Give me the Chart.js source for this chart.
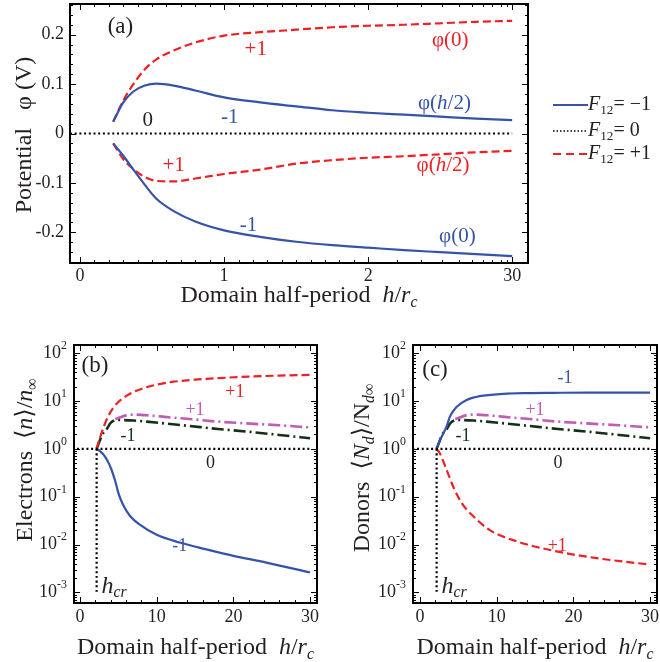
<!DOCTYPE html>
<html>
<head>
<meta charset="utf-8">
<script src="https://cdn.jsdelivr.net/npm/chart.js@4.4.1/dist/chart.umd.min.js"></script>
<style>
  body { margin: 0; background: #fff; }
  .box { position: absolute; }
</style>
</head>
<body>
<div class="box" style="left:0;top:0;width:660px;height:312px"><canvas id="chartA"></canvas></div>
<div class="box" style="left:0;top:320px;width:330px;height:342px"><canvas id="chartB"></canvas></div>
<div class="box" style="left:330px;top:320px;width:330px;height:342px"><canvas id="chartC"></canvas></div>
<script>
/* ---------- Data ---------- */

// panel (a): x is the position on the compressed axis (ticks 0, 1, 2, 30)
const phiX = [0.23, 0.30, 0.37, 0.45, 0.53, 0.65, 0.80, 1.0, 1.25, 1.5, 1.75, 2.0, 2.25, 2.5, 2.75, 3.0];
const phi0Plus     = [0.024, 0.067, 0.100, 0.130, 0.150, 0.168, 0.184, 0.198, 0.205, 0.210, 0.215, 0.218, 0.220, 0.223, 0.226, 0.228];
const phiHalfMinus = [0.024, 0.063, 0.085, 0.097, 0.101, 0.097, 0.087, 0.073, 0.063, 0.055, 0.047, 0.042, 0.038, 0.034, 0.030, 0.027];
const phiHalfPlus  = [-0.020, -0.052, -0.072, -0.088, -0.096, -0.097, -0.091, -0.082, -0.073, -0.061, -0.054, -0.049, -0.046, -0.042, -0.038, -0.035];
const phi0Minus    = [-0.020, -0.045, -0.073, -0.104, -0.132, -0.157, -0.178, -0.196, -0.209, -0.219, -0.226, -0.231, -0.236, -0.240, -0.244, -0.248];
const phiZeroX = [-0.07, 3.0];
const phiZero  = [0, 0];
const phiXTicks = [0, 1, 2, 3];
const phiXLabels = ['0', '1', '2', '30'];
const phiYTicks = [0.2, 0.1, 0, -0.1, -0.2];
const phiYLabels = ['0.2', '0.1', '0', '-0.1', '-0.2'];

// panel (b): electrons
const hElecPlus = [2.17, 2.6, 3.0, 3.5, 4.35, 5, 6, 7, 8.7, 10, 12, 15, 18, 22, 26, 30];
const elecPlus  = [1.0, 1.7, 2.6, 4.2, 7.2, 9.5, 12.6, 15.5, 19.5, 21.9, 25, 28, 30, 32.4, 33.9, 35];
const hElecMinus = [2.17, 2.6, 3.0, 3.5, 4.1, 4.6, 5.0, 5.65, 6.5, 7.8, 10, 13, 16.5, 20, 24.3, 30];
const elecMinus  = [1.0, 0.9, 0.78, 0.6, 0.37, 0.21, 0.12, 0.066, 0.040, 0.026, 0.016, 0.011, 0.0079, 0.0058, 0.0042, 0.0026];

// dash-dot curves, same in (b) and (c)
const hDashDotPlus = [4.6, 5.0, 6, 7, 9, 12, 14.3, 18, 21.7, 26, 30];
const dashDotPlus  = [4.2, 4.4, 5.0, 5.2, 5.0, 4.5, 4.2, 3.7, 3.4, 3.1, 2.8];
const hDashDotMinus = [2.17, 3.0, 3.5, 4.0, 5, 7, 8.7, 11, 14.3, 18, 21.7, 26, 30];
const dashDotMinus  = [1.0, 2.1, 2.6, 3.5, 4.0, 3.9, 3.7, 3.4, 3.0, 2.6, 2.3, 1.95, 1.66];

// panel (c): donors
const hDonorMinus = [2.17, 2.6, 3.04, 3.5, 3.9, 4.8, 6.1, 7.8, 10.9, 14, 17.4, 22, 26, 30];
const donorMinus  = [1.0, 1.5, 2.1, 3.0, 4.7, 7.6, 10.5, 12.6, 14.1, 14.6, 14.8, 15.0, 15.0, 15.0];
const hDonorPlus = [2.17, 2.6, 3.48, 4.35, 5.43, 6.95, 9.1, 12.6, 17.8, 23, 30];
const donorPlus  = [1.0, 0.8, 0.36, 0.16, 0.074, 0.039, 0.020, 0.0117, 0.0072, 0.0052, 0.0038];

// reference lines in (b), (c)
const hCr = 2.17;
const unityX = [-1, 30];
const unity  = [1, 1];
const hCrLineY = [1, 0.001];

const hTicks = [0, 10, 20, 30];
const hLabels = ['0', '10', '20', '30'];
const logExps = [-3, -2, -1, 0, 1, 2];
const logLabels = ['-3', '-2', '-1', '0', '1', '2'];

/* ---------- Styles ---------- */

const BLUE = '#3553a8';
const RED = '#ee2024';
const MAG = '#c05cb4';
const DKGREEN = '#15301a';
const INK = '#231f20';
const FONT = '"Liberation Serif", "DejaVu Serif", serif';

const DASH = [8, 4];
const DOT = [2, 2.7];
const DASHDOT = [12, 4, 2, 4];

/* ---------- Helpers ---------- */

const xy = (xs, ys) => xs.map((x, i) => ({ x, y: ys[i] }));

function curve(data, color, dash, width) {
  return {
    data, borderColor: color, borderDash: dash || [], borderWidth: width || 2.2,
    pointRadius: 0, fill: false, cubicInterpolationMode: 'monotone'
  };
}

// rich text segments
const T = t => ({ t });
const I = t => ({ t, it: true });
const SUB = (t, it) => ({ t, sub: true, it });
const SUP = t => ({ t, sup: true });

function fontOf(size, it) { return (it ? 'italic ' : '') + size + 'px ' + FONT; }
function segSize(s, size) { return s.sub || s.sup ? size * 0.66 : size; }

function richWidth(ctx, segs, size) {
  let w = 0;
  segs.forEach(s => { ctx.font = fontOf(segSize(s, size), s.it); w += ctx.measureText(s.t).width; });
  return w;
}

function drawRich(ctx, segs, x, y, size, align) {
  const w = richWidth(ctx, segs, size);
  let cx = align === 'left' ? x : align === 'right' ? x - w : x - w / 2;
  ctx.textAlign = 'left';
  ctx.textBaseline = 'middle';
  segs.forEach(s => {
    ctx.font = fontOf(segSize(s, size), s.it);
    const dy = s.sub ? size * 0.28 : s.sup ? -size * 0.4 : 0;
    ctx.fillText(s.t, cx, y + dy);
    cx += ctx.measureText(s.t).width;
  });
}

function logMinor(lo, hi) {
  const out = [];
  for (let d = lo; d <= hi; d++) for (let m = 2; m <= 9; m++) out.push(m * Math.pow(10, d));
  return out;
}

function range(a, b, step) {
  const out = [];
  for (let v = a; v <= b + 1e-9; v += step) out.push(Math.round(v * 1000) / 1000);
  return out;
}

/* ---------- Frame, ticks, labels, notes ---------- */

function decoPlugin(cfg) {
  return {
    id: 'deco',
    afterDraw(chart) {
      const { ctx, chartArea: a } = chart;
      const sx = chart.scales.x, sy = chart.scales.y;
      ctx.save();

      // inward ticks on all four sides
      ctx.strokeStyle = '#000';
      ctx.lineWidth = 1;
      ctx.beginPath();
      const xt = (v, len) => {
        const p = Math.round(sx.getPixelForValue(v)) + 0.5;
        if (p < a.left || p > a.right) return;
        ctx.moveTo(p, a.bottom); ctx.lineTo(p, a.bottom - len);
        ctx.moveTo(p, a.top); ctx.lineTo(p, a.top + len);
      };
      const yt = (v, len) => {
        const p = Math.round(sy.getPixelForValue(v)) + 0.5;
        if (p < a.top || p > a.bottom) return;
        ctx.moveTo(a.left, p); ctx.lineTo(a.left + len, p);
        ctx.moveTo(a.right, p); ctx.lineTo(a.right - len, p);
      };
      cfg.xMinor.forEach(v => xt(v, 3));
      cfg.xMajor.forEach(v => xt(v, 6));
      cfg.yMinor.forEach(v => yt(v, 3));
      cfg.yMajor.forEach(v => yt(v, 6));
      ctx.stroke();

      ctx.lineWidth = 2;
      ctx.strokeRect(a.left, a.top, a.right - a.left, a.bottom - a.top);

      // tick labels
      ctx.fillStyle = INK;
      cfg.xMajor.forEach((v, i) => {
        drawRich(ctx, [T(cfg.xLabels[i])], sx.getPixelForValue(v), a.bottom + cfg.xLabelGap, cfg.tickSize, 'center');
      });
      cfg.yMajor.forEach((v, i) => {
        const segs = cfg.yLog ? [T('10'), SUP(cfg.yLabels[i])] : [T(cfg.yLabels[i])];
        drawRich(ctx, segs, a.left - cfg.yLabelGap, sy.getPixelForValue(v), cfg.tickSize, 'right');
      });

      // axis titles
      drawRich(ctx, cfg.xTitle, (a.left + a.right) / 2, cfg.xTitleY, cfg.titleSize, 'center');
      ctx.save();
      ctx.translate(cfg.yTitleX, cfg.yTitleY);
      ctx.rotate(-Math.PI / 2);
      drawRich(ctx, cfg.yTitle, 0, 0, cfg.titleSize, 'center');
      ctx.restore();

      // curve labels
      cfg.notes.forEach(n => {
        ctx.fillStyle = n.color || INK;
        drawRich(ctx, n.segs, sx.getPixelForValue(n.x), sy.getPixelForValue(n.y), n.size, n.align || 'center');
      });

      // legend
      (cfg.legend || []).forEach(e => {
        ctx.strokeStyle = e.color;
        ctx.lineWidth = e.width;
        ctx.setLineDash(e.dash);
        ctx.beginPath();
        ctx.moveTo(cfg.legendX, e.y);
        ctx.lineTo(cfg.legendX + 35, e.y);
        ctx.stroke();
        ctx.setLineDash([]);
        ctx.fillStyle = INK;
        drawRich(ctx, e.segs, cfg.legendX + 35, e.y, 20, 'left');
      });

      ctx.restore();
    }
  };
}

function baseOptions(pad, yWidth, xHeight, xScale, yScale) {
  const hidden = { display: false };
  return {
    responsive: true,
    maintainAspectRatio: false,
    animation: false,
    layout: { padding: pad },
    plugins: { legend: hidden, tooltip: { enabled: false } },
    scales: {
      x: Object.assign({
        type: 'linear', grid: hidden, border: hidden, ticks: hidden,
        afterFit: s => { s.height = xHeight; }
      }, xScale),
      y: Object.assign({
        grid: hidden, border: hidden, ticks: hidden,
        afterFit: s => { s.width = yWidth; }
      }, yScale)
    }
  };
}

/* ---------- Panel (a) ---------- */

const hOver = [I('h'), T('/2')];
const phiMinorX = range(0, 2, 0.1).concat([2.2, 2.37, 2.51, 2.63, 2.72, 2.8, 2.86, 2.92, 2.965]);

new Chart(document.getElementById('chartA'), {
  type: 'line',
  data: {
    datasets: [
      curve(xy(phiZeroX, phiZero), '#000', DOT, 2.2),
      curve(xy(phiX, phiHalfMinus), BLUE),
      curve(xy(phiX, phi0Minus), BLUE),
      curve(xy(phiX, phi0Plus), RED, DASH),
      curve(xy(phiX, phiHalfPlus), RED, DASH)
    ]
  },
  options: baseOptions({ top: 4, right: 132 }, 70, 49,
    { min: -0.07, max: 3.11 },
    { type: 'linear', min: -0.262, max: 0.262 }),
  plugins: [decoPlugin({
    xMajor: phiXTicks, xLabels: phiXLabels, xMinor: phiMinorX, xLabelGap: 13,
    yMajor: phiYTicks, yLabels: phiYLabels, yMinor: range(-0.26, 0.26, 0.02), yLabelGap: 6,
    tickSize: 18, titleSize: 24,
    xTitle: [T('Domain half-period  '), I('h'), T('/'), I('r'), SUB('c', true)], xTitleY: 296,
    yTitle: [T('Potential   φ (V)')], yTitleX: 25, yTitleY: 135,
    notes: [
      { x: 0.28, y: 0.216, segs: [T('(a)')], size: 23 },
      { x: 1.22, y: 0.169, segs: [T('+1')], size: 21, color: RED },
      { x: 1.04, y: 0.033, segs: [T('-1')], size: 21, color: BLUE },
      { x: 0.47, y: 0.027, segs: [T('0')], size: 21 },
      { x: 0.65, y: -0.064, segs: [T('+1')], size: 21, color: RED },
      { x: 1.17, y: -0.186, segs: [T('-1')], size: 21, color: BLUE },
      { x: 2.57, y: 0.189, segs: [T('φ(0)')], size: 21, color: RED },
      { x: 2.53, y: 0.061, segs: [T('φ(')].concat(hOver, [T(')')]), size: 21, color: BLUE },
      { x: 2.52, y: -0.064, segs: [T('φ(')].concat(hOver, [T(')')]), size: 21, color: RED },
      { x: 2.62, y: -0.208, segs: [T('φ(0)')], size: 21, color: BLUE }
    ],
    legendX: 553,
    legend: [
      { y: 105, color: BLUE, dash: [], width: 2.2, segs: [I('F'), SUB('12'), T('= −1')] },
      { y: 131, color: '#000', dash: [1.5, 2], width: 1.5, segs: [I('F'), SUB('12'), T('= 0')] },
      { y: 154, color: RED, dash: [8, 5], width: 2.2, segs: [I('F'), SUB('12'), T('= +1')] }
    ]
  })]
});

/* ---------- Panels (b) and (c) ---------- */

const logMajor = logExps.map(e => Math.pow(10, e));
const logScale = { type: 'logarithmic', min: Math.pow(10, -3.21), max: Math.pow(10, 2.17) };
const hMinor = range(0, 30, 2);
const hcrSegs = [I('h'), SUB('cr', true)];

function logPanelConfig(extra) {
  return Object.assign({
    xMajor: hTicks, xLabels: hLabels, xMinor: hMinor, xLabelGap: 14,
    yMajor: logMajor, yLabels: logLabels, yMinor: logMinor(-4, 2), yLog: true, yLabelGap: 7,
    tickSize: 18, titleSize: 24,
    xTitle: [T('Domain half-period  '), I('h'), T('/'), I('r'), SUB('c', true)], xTitleY: 328
  }, extra);
}

new Chart(document.getElementById('chartB'), {
  type: 'line',
  data: {
    datasets: [
      curve(xy(unityX, unity), '#000', DOT, 2.2),
      curve(xy([hCr, hCr], hCrLineY), '#000', DOT, 2.2),
      curve(xy(hElecMinus, elecMinus), BLUE),
      curve(xy(hElecPlus, elecPlus), RED, DASH),
      curve(xy(hDashDotPlus, dashDotPlus), MAG, DASHDOT, 2.6),
      curve(xy(hDashDotMinus, dashDotMinus), DKGREEN, DASHDOT, 2.6)
    ]
  },
  options: baseOptions({ top: 25, right: 13 }, 74, 59, { min: -0.78, max: 30.9 }, logScale),
  plugins: [decoPlugin(logPanelConfig({
    yTitle: [T('Electrons  ⟨'), I('n'), T('⟩/'), I('n'), SUB('∞')], yTitleX: 26, yTitleY: 140,
    notes: [
      { x: 1.96, y: 53.7, segs: [T('(b)')], size: 23 },
      { x: 20.2, y: 15.4, segs: [T('+1')], size: 18, color: RED },
      { x: 15.0, y: 6.5, segs: [T('+1')], size: 18, color: MAG },
      { x: 6.26, y: 1.86, segs: [T('-1')], size: 18, color: DKGREEN },
      { x: 17.0, y: 0.51, segs: [T('0')], size: 18 },
      { x: 13.0, y: 0.0091, segs: [T('-1')], size: 18, color: BLUE },
      { x: 2.8, y: 0.00133, segs: hcrSegs, size: 24, align: 'left' }
    ]
  }))]
});

new Chart(document.getElementById('chartC'), {
  type: 'line',
  data: {
    datasets: [
      curve(xy(unityX, unity), '#000', DOT, 2.2),
      curve(xy([hCr, hCr], hCrLineY), '#000', DOT, 2.2),
      curve(xy(hDonorPlus, donorPlus), RED, DASH),
      curve(xy(hDonorMinus, donorMinus), BLUE),
      curve(xy(hDashDotPlus, dashDotPlus), MAG, DASHDOT, 2.6),
      curve(xy(hDashDotMinus, dashDotMinus), DKGREEN, DASHDOT, 2.6)
    ]
  },
  options: baseOptions({ top: 25, right: 3 }, 83, 59, { min: -0.91, max: 30.9 }, logScale),
  plugins: [decoPlugin(logPanelConfig({
    yTitle: [T('Donors  ⟨'), I('N'), SUB('d', true), T('⟩/N'), SUB('d∞', true)], yTitleX: 33, yTitleY: 148,
    notes: [
      { x: 1.96, y: 44.7, segs: [T('(c)')], size: 23 },
      { x: 18.9, y: 30, segs: [T('-1')], size: 18, color: BLUE },
      { x: 15.0, y: 6.5, segs: [T('+1')], size: 18, color: MAG },
      { x: 5.6, y: 1.86, segs: [T('-1')], size: 18, color: DKGREEN },
      { x: 18.0, y: 0.51, segs: [T('0')], size: 18 },
      { x: 17.9, y: 0.0091, segs: [T('+1')], size: 18, color: RED },
      { x: 2.8, y: 0.00133, segs: hcrSegs, size: 24, align: 'left' }
    ]
  }))]
});
</script>
</body>
</html>
